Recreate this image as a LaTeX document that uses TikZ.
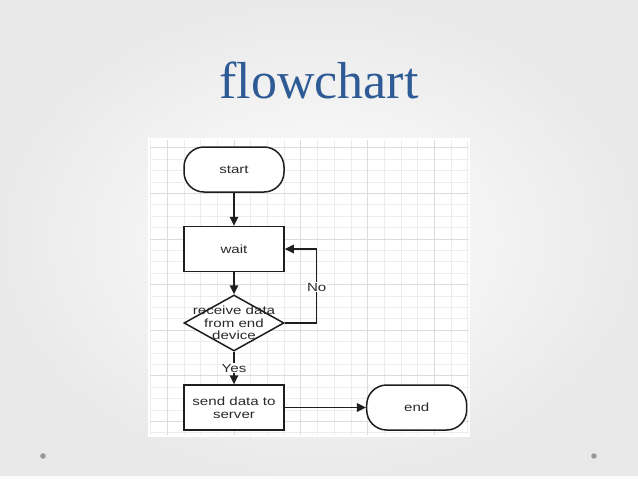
\documentclass[tikz,border=0pt]{standalone}
\usepackage{fontspec}
\usepackage{graphicx}
\usetikzlibrary{arrows.meta,shapes.geometric}
\newfontfamily\arialf{Liberation Sans}
\newfontfamily\titlef{Liberation Serif}
\newcommand\sx[1]{\scalebox{1.28}[1]{#1}}
\definecolor{titleblue}{HTML}{2E5A96}
\definecolor{gridminor}{HTML}{EDEDED}
\definecolor{gridmajor}{HTML}{DCDCDC}
\definecolor{ink}{HTML}{1E1E1E}
\definecolor{txt}{HTML}{2A2A2A}
\tikzset{
  box/.style={draw=ink, line width=1.5pt, fill=white, minimum width=100pt, minimum height=45pt, inner sep=0pt},
  term/.style={box, rounded corners=20pt},
  dia/.style={draw=ink, line width=1.5pt, fill=white, diamond, minimum width=100pt, minimum height=56pt, inner sep=0pt},
  lbl/.style={font=\arialf\fontsize{11.8}{12.6}\selectfont, text=txt, align=center, inner sep=1pt},
  arr/.style={draw=ink, line width=1.5pt, -{Triangle[length=9pt,width=8.5pt]}},
}
\begin{document}
\begin{tikzpicture}[x=1pt,y=-1pt]
\useasboundingbox (0,0) rectangle (638,479);
% background
\shade[inner color=white, outer color=gray!17] (0,0) rectangle (638,479);
\fill[white!96!gray] (0,476) rectangle (638,479);
\fill[gray!80] (43,456) circle (2.8);
\fill[gray!80] (594,456) circle (2.8);
% title
\node[anchor=base, text=titleblue, font=\titlef\fontsize{52}{56}\selectfont, inner sep=0pt] (title) at (319,98) {flowchart};
% grid area
\fill[white] (148,138) rectangle (470,437);
\foreach \k in {0,...,19} {
  \draw[gridminor, line width=0.6pt] (150.4+16.7*\k,140) -- (150.4+16.7*\k,435);
}
\foreach \k in {0,...,25} {
  \draw[gridminor, line width=0.6pt] (150,147.7+11.4*\k) -- (469,147.7+11.4*\k);
}
\foreach \k in {1,5,9,13,17} {
  \draw[gridmajor, line width=0.6pt] (150.4+16.7*\k,140) -- (150.4+16.7*\k,435);
}
\foreach \k in {0,4,8,12,16,20,24} {
  \draw[gridmajor, line width=0.6pt] (150,147.7+11.4*\k) -- (469,147.7+11.4*\k);
}
% nodes
\node[term] (start) at (234,169.5) {};
\node[lbl] (startt) at (start.center) {\sx{start}};
\node[box] (wait) at (234,249) {};
\node[lbl] (waitt) at (wait.center) {\sx{wait}};
\node[dia] (dec) at (234,323) {};
\node[lbl] (dect) at (dec.center) {\sx{receive data}\\\sx{from end}\\\sx{device}};
\node[box] (send) at (234,407.5) {};
\node[lbl] (sendt) at (send.center) {\sx{send data to}\\\sx{server}};
\node[term] (end) at (416.7,407.5) {};
\node[lbl] (endt) at (end.center) {\sx{end}};
\coordinate (nox) at (316.7,0);
% connectors
\draw[arr] (start.south) -- (wait.north);
\draw[arr] (wait.south) -- (dec.north);
\draw[arr] (dec.south) -- node[lbl, fill=white, midway] (yes) {\sx{Yes}} (send.north);
\draw[arr] (dec.east) -- (dec.east -| nox) -- node[lbl, fill=white, midway, yshift=-1pt] (no) {\sx{No}} (wait.east -| nox) -- (wait.east);
\draw[arr] (send.east) -- (end.west);
\end{tikzpicture}
\end{document}
